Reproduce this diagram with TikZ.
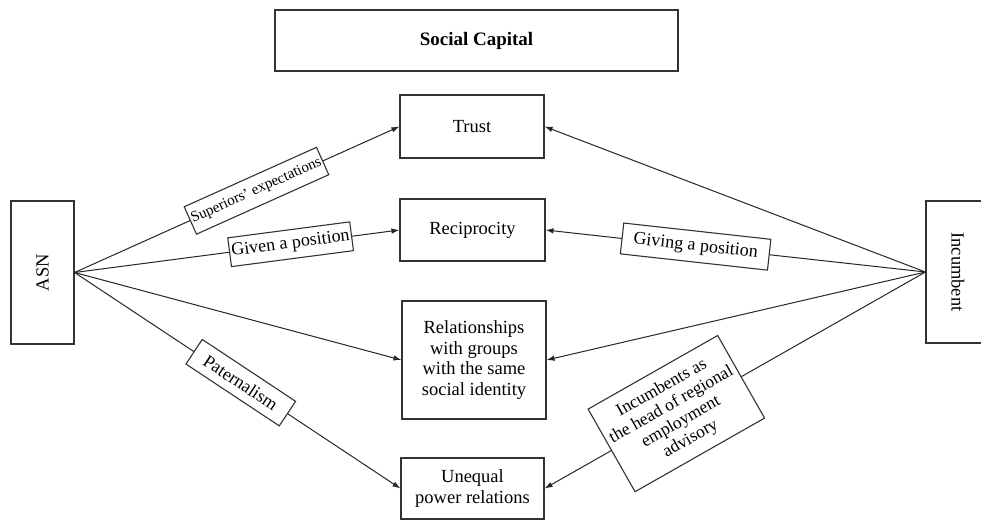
\documentclass[tikz,border=0pt]{standalone}
\usepackage{fontspec}
\setmainfont{Liberation Serif}
\usetikzlibrary{arrows.meta}
\begin{document}
\begin{tikzpicture}[x=1pt,y=-1pt,
  box/.style={draw=black!80,line width=1.1pt,align=center,inner sep=0pt,font=\fontsize{18.5}{20.5}\selectfont},
  lbl/.style={draw=black!80,line width=1.1pt,fill=white,align=center,inner sep=0pt,sloped,font=\fontsize{18}{20}\selectfont},
  conn/.style={draw=black!85,line width=1pt,-{Latex[length=8pt,width=5.5pt]}}]
\useasboundingbox (0,0) rectangle (981,520);
\node[box,minimum width=403pt,minimum height=61pt,font=\fontsize{19}{21}\selectfont\bfseries] (soc) at (476.5,40.5) {Social Capital};
\node[box,minimum width=144pt,minimum height=63pt] (trust) at (472,126.5) {Trust};
\node[box,minimum width=145pt,minimum height=62pt] (recip) at (472.5,230) {Reciprocity};
\node[box,minimum width=144pt,minimum height=118pt] (rel) at (474,360) {Relationships\\with groups\\with the same\\social identity};
\node[box,minimum width=143pt,minimum height=61pt] (uneq) at (472.5,488.5) {Unequal\\power relations};
\node[box,rotate=90,minimum width=143pt,minimum height=63pt] (asn) at (42.5,272.5) {ASN};
\node[box,rotate=-90,minimum width=142pt,minimum height=64pt] (inc) at (958,272) {Incumbent};

\draw[conn] (asn.south) -- node[lbl,pos=0.56,minimum width=145pt,minimum height=30pt,font=\fontsize{15}{17}\selectfont] (l1) {Superiors' expectations} (trust.west);
\draw[conn] (asn.south) -- node[lbl,pos=0.665,minimum width=123pt,minimum height=29pt] (l2) {Given a position} (recip.west);
\draw[conn] (asn.south) -- (rel.west);
\draw[conn] (asn.south) -- node[lbl,pos=0.51,minimum width=112pt,minimum height=29.5pt] (l3) {Paternalism} (uneq.west);

\draw[conn] (inc.south) -- (trust.east);
\draw[conn] (inc.south) -- node[lbl,pos=0.605,minimum width=148pt,minimum height=31pt] (l4) {Giving a position} (recip.east);
\draw[conn] (inc.south) -- (rel.east);
\draw[conn] (inc.south) -- node[lbl,pos=0.654,minimum width=149pt,minimum height=95pt,font=\fontsize{17.5}{19.5}\selectfont] (l5) {Incumbents as\\the head of regional\\employment\\advisory} (uneq.east);
\end{tikzpicture}
\end{document}
